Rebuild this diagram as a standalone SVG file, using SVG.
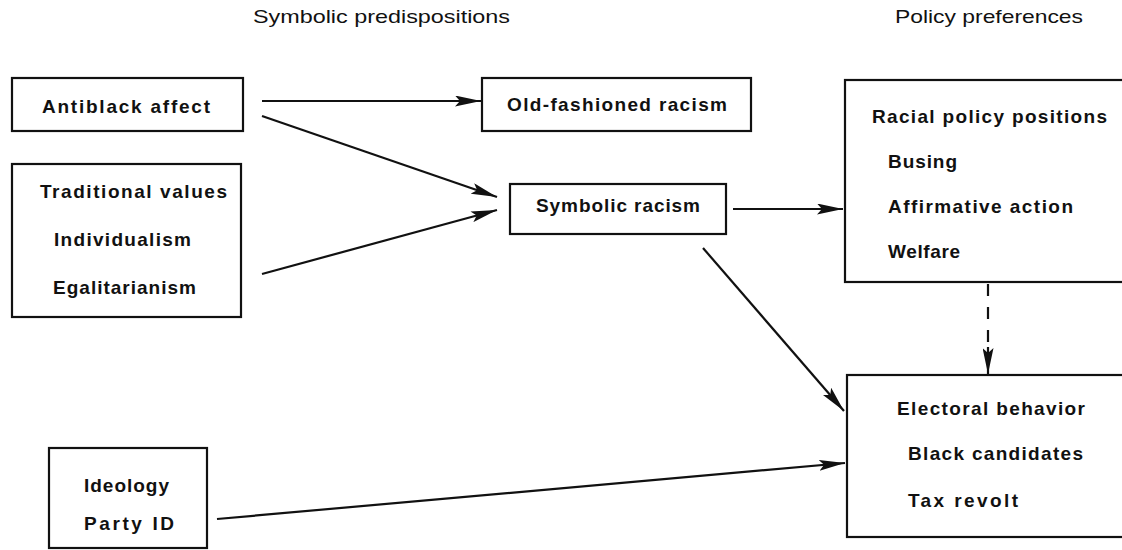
<svg xmlns="http://www.w3.org/2000/svg" width="1122" height="550" viewBox="0 0 1122 550">
<style>
.box{fill:#fff;stroke:#111;stroke-width:2.2}
.t{font-family:"Liberation Sans",Arial,sans-serif;font-size:19px;font-weight:bold;fill:#111}
.h{font-family:"Liberation Sans",Arial,sans-serif;font-size:19px;fill:#111}
.c{fill:none;stroke:#111;stroke-width:2.2}
.d{stroke-dasharray:12 11}
</style>
<defs>
<marker id="ah" viewBox="0 0 26 11" refX="26" refY="5.5" markerWidth="26" markerHeight="11" markerUnits="userSpaceOnUse" orient="auto">
<path d="M0,0 L26,5.5 L0,11 L5,5.5 z" fill="#111"/>
</marker>
</defs>
<g id="headers">
<text class="h" x="253" y="23" textLength="257" lengthAdjust="spacingAndGlyphs">Symbolic predispositions</text>
<text class="h" x="895" y="23" textLength="188" lengthAdjust="spacingAndGlyphs">Policy preferences</text>
</g>
<g id="antiblack">
<rect class="box" x="12" y="78" width="231" height="53"/>
<text class="t" x="42" y="113" textLength="168">Antiblack affect</text>
</g>
<g id="values">
<rect class="box" x="12" y="164" width="229" height="153"/>
<text class="t" x="40" y="198" textLength="187">Traditional values</text>
<text class="t" x="54" y="246" textLength="137">Individualism</text>
<text class="t" x="53" y="294" textLength="143">Egalitarianism</text>
</g>
<g id="ideology">
<rect class="box" x="49" y="448" width="158" height="100"/>
<text class="t" x="84" y="492" textLength="85">Ideology</text>
<text class="t" x="84" y="530" textLength="90">Party ID</text>
</g>
<g id="oldfashioned">
<rect class="box" x="482" y="78" width="269" height="53"/>
<text class="t" x="507" y="111" textLength="220">Old-fashioned racism</text>
</g>
<g id="symbolic">
<rect class="box" x="510" y="184" width="216" height="50"/>
<text class="t" x="536" y="212" textLength="164">Symbolic racism</text>
</g>
<g id="policy">
<rect class="box" x="845" y="80" width="290" height="202"/>
<text class="t" x="872" y="123" textLength="235">Racial policy positions</text>
<text class="t" x="888" y="168" textLength="69">Busing</text>
<text class="t" x="888" y="213" textLength="185">Affirmative action</text>
<text class="t" x="888" y="258" textLength="72">Welfare</text>
</g>
<g id="electoral">
<rect class="box" x="847" y="375" width="290" height="162"/>
<text class="t" x="897" y="415" textLength="188">Electoral behavior</text>
<text class="t" x="908" y="460" textLength="175">Black candidates</text>
<text class="t" x="908" y="507" textLength="110">Tax revolt</text>
</g>
<g id="connectors">
<line class="c" x1="262" y1="101" x2="481" y2="101" marker-end="url(#ah)"/>
<line class="c" x1="262" y1="116" x2="497" y2="197" marker-end="url(#ah)"/>
<line class="c" x1="262" y1="274" x2="497" y2="210" marker-end="url(#ah)"/>
<line class="c" x1="733" y1="209" x2="843" y2="209" marker-end="url(#ah)"/>
<line class="c" x1="703" y1="248" x2="844" y2="411" marker-end="url(#ah)"/>
<line class="c" x1="217" y1="519" x2="845" y2="463" marker-end="url(#ah)"/>
<line class="c d" x1="988" y1="284" x2="988" y2="347"/>
<line class="c" x1="988" y1="347" x2="988" y2="374" marker-end="url(#ah)"/>
</g>
</svg>
